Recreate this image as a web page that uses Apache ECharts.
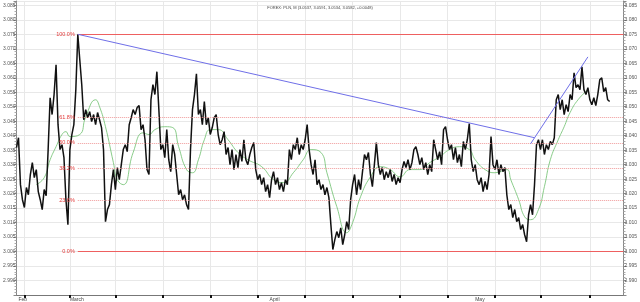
<!DOCTYPE html>
<html>
<head>
<meta charset="utf-8">
<script src="https://cdn.jsdelivr.net/npm/echarts@6/dist/echarts.min.js"></script>
<style>html,body{margin:0;padding:0;background:#fff}#c{width:640px;height:302px}</style>
</head>
<body>
<div id="c"></div>
<script>
const titleText = 'FOREX: PLN, M (3.0537, 3.0591, 3.0534, 3.0582, +0.0048)';
const sampleCount = 308;
const priceValues = [
3.0359,3.0393,3.0231,3.0179,3.0152,3.0221,3.0196,3.0266,3.0307,3.0255,3.0283,3.0207,3.0179,3.0145,3.0214,3.0193,3.0352,
3.0531,3.0473,3.0542,3.0645,3.0438,3.0352,3.0369,3.0324,3.0179,3.0093,3.0352,3.0404,3.0438,3.0559,3.0750,
3.0662,3.0576,3.0455,3.0490,3.0462,3.0483,3.0449,3.0473,3.0438,3.0480,3.0455,3.0428,3.0352,3.0103,3.0145,3.0162,3.0231,3.0283,3.0214,3.0290,3.0248,3.0300,
3.0352,3.0369,3.0345,3.0438,3.0462,3.0490,3.0473,3.0497,3.0504,3.0421,3.0438,3.0386,3.0283,3.0266,3.0524,3.0576,3.0542,3.0621,3.0490,3.0352,3.0369,3.0324,3.0421,3.0317,3.0276,3.0369,3.0335,3.0266,3.0196,3.0214,3.0179,3.0196,3.0162,3.0145,
3.0352,3.0490,3.0542,3.0614,3.0473,3.0490,3.0438,3.0518,3.0438,3.0462,3.0404,3.0428,3.0462,3.0473,3.0404,3.0369,3.0386,3.0414,3.0335,3.0359,3.0300,3.0352,3.0283,
3.0335,3.0290,3.0352,3.0311,3.0386,3.0317,3.0300,3.0335,3.0359,3.0376,3.0283,3.0248,3.0266,3.0231,3.0255,3.0207,3.0231,3.0186,3.0248,3.0276,3.0231,3.0255,3.0214,3.0238,3.0207,3.0248,3.0231,3.0352,3.0317,3.0369,3.0352,3.0393,3.0335,3.0369,3.0352,3.0386,3.0438,3.0352,3.0300,3.0266,3.0317,3.0231,3.0248,
3.0214,3.0231,3.0196,3.0221,3.0186,3.0093,3.0007,3.0041,3.0069,3.0048,3.0082,3.0024,3.0058,3.0103,3.0076,3.0179,3.0231,3.0266,3.0196,3.0248,
3.0214,3.0276,3.0335,3.0317,3.0342,3.0266,3.0224,3.0300,3.0376,3.0300,3.0266,3.0290,3.0248,3.0276,3.0255,3.0283,3.0242,3.0266,3.0231,3.0255,3.0238,3.0283,3.0311,3.0290,3.0317,3.0283,3.0307,3.0352,3.0362,3.0335,
3.0300,3.0324,3.0283,3.0307,3.0266,3.0300,3.0276,3.0386,3.0352,3.0317,3.0345,3.0300,3.0421,3.0431,3.0386,3.0352,3.0369,3.0317,3.0359,3.0307,3.0335,3.0293,3.0380,3.0352,3.0386,3.0442,3.0317,3.0276,3.0300,3.0248,3.0231,3.0255,3.0207,3.0242,3.0214,3.0266,
3.0397,3.0300,3.0283,3.0317,3.0266,3.0300,3.0276,3.0290,3.0196,3.0145,3.0162,3.0117,3.0145,3.0103,3.0117,3.0076,3.0093,3.0058,3.0034,3.0127,
3.0162,3.0127,3.0231,3.0369,3.0386,3.0352,3.0386,3.0335,3.0369,3.0352,3.0380,3.0369,3.0393,3.0524,3.0542,3.0490,3.0524,3.0473,3.0507,3.0483,3.0542,3.0524,3.0617,3.0566,3.0576,3.0559,3.0638,3.0559,3.0542,3.0566,3.0524,3.0507,3.0531,3.0504,3.0542,3.0593,3.0600,3.0552,3.0566,3.0524,3.0518
];
const maIndex = [10,14,17,20,23,25,27,32,35,40,42,45,49,51,54,59,64,67,70,75,79,82,86,89,92,95,98,102,107,112,117,124,130,135,140,145,149,154,157,162,167,170,174,179,184,189,194,199,204,209,214,219,224,229,232,237,242,248,250,254,257,260,264,267,270,274,277,280,284,289];
const maValues = [3.0231,3.0255,3.0317,3.0362,3.0404,3.0414,3.0397,3.0404,3.0465,3.0524,3.0500,3.0431,3.0307,3.0248,3.0231,3.0342,3.0410,3.0404,3.0421,3.0431,3.0428,3.0362,3.0283,3.0272,3.0317,3.0386,3.0421,3.0421,3.0386,3.0342,3.0317,3.0293,3.0248,3.0238,3.0272,3.0317,3.0352,3.0342,3.0272,3.0155,3.0065,3.0100,3.0189,3.0258,3.0293,3.0283,3.0258,3.0283,3.0283,3.0307,3.0327,3.0352,3.0362,3.0352,3.0317,3.0283,3.0272,3.0283,3.0248,3.0179,3.0120,3.0110,3.0145,3.0224,3.0317,3.0386,3.0431,3.0480,3.0524,3.0559];
const fibHigh = 3.075, fibLow = 3.000;
const fibRatios = [1, 0.618, 0.5, 0.382, 0.236, 0];
const fibLabels = ['100.0%', '61.8%', '50.0%', '38.2%', '23.6%', '0.0%'];
const fibStartIdx = 31, fibEndIdx = 307;
const trendLine1 = [[31, 3.075], [262, 3.0393]];
const trendLine2 = [[260, 3.0372], [289, 3.0672]];
const yMin = 2.985, yMax = 3.0865, yStep = 0.005;
const xTickIdx = [4, 27, 50, 74, 98, 122, 146, 170, 194, 218, 242, 265, 290];
const xLabelIdx = [1, 27, 128, 232];
const xLabelText = ['Feb', 'March', 'April', 'May'];

const categories = Array.from({length: sampleCount}, (_, i) => String(i));
const labelMap = {};
xLabelIdx.forEach((k, j) => { labelMap[k] = xLabelText[j]; });
const tickSet = new Set(xTickIdx);

const solidColor = '#ee6060', dottedColor = '#f09a9a';
const fibLines = fibRatios.map((r, j) => {
  const v = fibLow + r * (fibHigh - fibLow);
  const solid = (r === 1 || r === 0);
  const ls = {color: solid ? solidColor : dottedColor, type: solid ? 'solid' : 'dotted', width: solid ? 1.2 : 1};
  return [
    {coord: [fibStartIdx, v], label: {show: true, position: 'start', formatter: fibLabels[j], color: '#e23a3a', fontSize: 5.5, distance: 3}, lineStyle: ls},
    {coord: [fibEndIdx, v], lineStyle: ls}
  ];
});
const trendLines = [trendLine1, trendLine2].map(t => [
  {coord: t[0], label: {show: false}, lineStyle: {color: '#6f6fe8', type: 'solid', width: 1}},
  {coord: t[1]}
]);

const yAxisBase = {
  type: 'value', min: yMin, max: yMax, interval: yStep,
  axisLine: {show: true, lineStyle: {color: '#888', width: 1}},
  axisTick: {show: true, length: 3, lineStyle: {color: '#888'}},
  minorTick: {show: true, splitNumber: 5, length: 2, lineStyle: {color: '#aaa'}},
  axisLabel: {fontSize: 5, color: '#555', margin: 1, fontFamily: 'Liberation Sans', showMinLabel: false, showMaxLabel: false,
    formatter: v => v.toFixed(3)},
  splitLine: {show: true, lineStyle: {color: '#e8e8e8', width: 1}}
};

const chart = echarts.init(document.getElementById('c'), null, {renderer: 'canvas'});
chart.setOption({
  animation: false,
  backgroundColor: '#fff',
  title: {text: titleText, left: 'center', top: 1, textStyle: {fontSize: 4, color: '#444', fontWeight: 'normal', fontFamily: 'Liberation Sans'}},
  grid: {left: 13, right: 13, top: 1, bottom: 6.5, containLabel: false},
  xAxis: {
    type: 'category', data: categories, boundaryGap: false,
    axisLine: {show: true, onZero: false, lineStyle: {color: '#777', width: 1}},
    axisTick: {show: true, interval: (i) => tickSet.has(i), length: 3, inside: false, lineStyle: {color: '#111', width: 2}},
    axisLabel: {show: true, interval: (i) => labelMap[i] !== undefined, formatter: (v, i) => labelMap[i] || '',
      fontSize: 5, color: '#444', margin: 2, align: 'left', fontFamily: 'Liberation Sans'},
    splitLine: {show: true, interval: (i) => tickSet.has(i), lineStyle: {color: '#e8e8e8', width: 1}}
  },
  yAxis: [
    Object.assign({}, yAxisBase, {position: 'left'}),
    Object.assign({}, yAxisBase, {position: 'right', splitLine: {show: false}})
  ],
  series: [
    {
      type: 'line', name: 'MA', yAxisIndex: 0,
      data: maIndex.map((k, j) => [k, maValues[j]]),
      smooth: true, showSymbol: false, symbol: 'none',
      lineStyle: {color: '#6cbf6c', width: 0.8},
      markLine: {silent: true, symbol: ['none', 'none'], animation: false, data: fibLines.concat(trendLines)}
    },
    {
      type: 'line', name: 'Price', yAxisIndex: 0,
      data: priceValues, showSymbol: false, symbol: 'none',
      lineStyle: {color: '#111', width: 1.5}
    }
  ]
});
</script>
</body>
</html>
